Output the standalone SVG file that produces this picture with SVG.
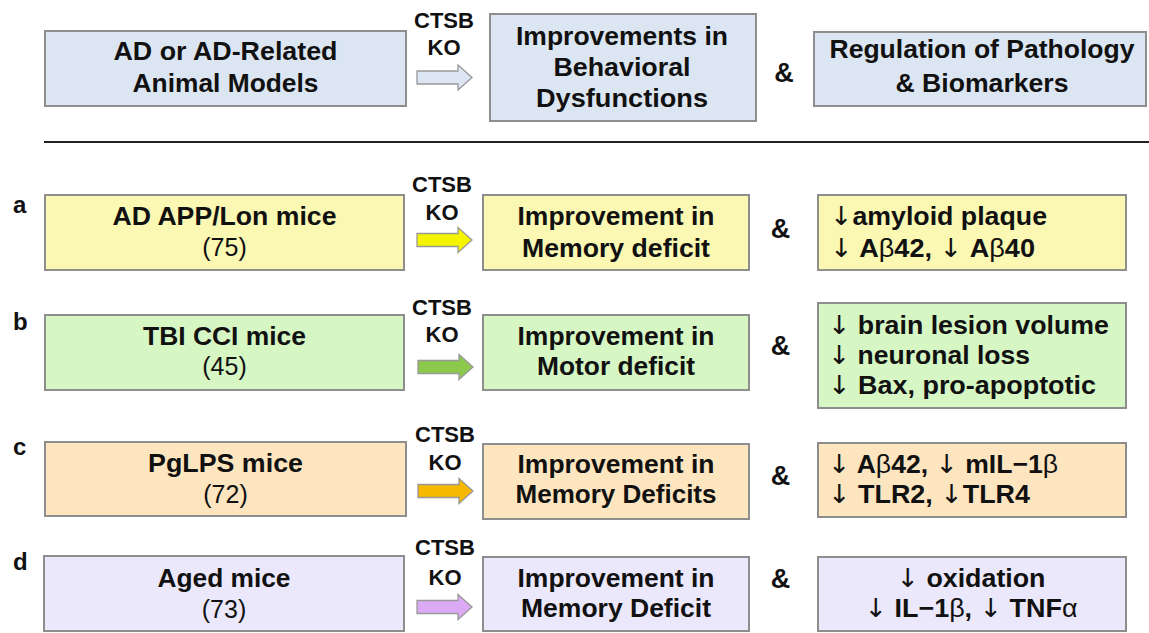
<svg xmlns="http://www.w3.org/2000/svg" width="1149" height="633" viewBox="0 0 1149 633">
<defs>
<style>
text{font-family:"Liberation Sans",Arial,Helvetica,sans-serif;fill:#111;}
.b{font-weight:bold;font-size:26px;}
.r{font-weight:normal;font-size:25px;}
.k{font-weight:bold;font-size:22px;}
.amp{font-weight:bold;font-size:27px;}
.lab{font-weight:bold;font-size:24px;}
.g{font-weight:normal;}
.d{font-family:"DejaVu Sans",sans-serif;font-weight:normal;}
.box{stroke:#8e8e8e;stroke-width:2;}
.arr{stroke:#999;stroke-width:1.3;}
.blue{fill:#dce6f2;}
.yel{fill:#faf8b2;}
.grn{fill:#d6f6c4;}
.org{fill:#fde5c0;}
.pur{fill:#ebe8fb;}
</style>
<path id="ar" d="M0,-6.5 H41 V-12.5 L55,0 L41,12.5 V6.5 H0 Z"/>
</defs>
<rect width="1149" height="633" fill="#fff"/>

<g id="connectors">
<use href="#ar" class="arr" x="417" y="77.5" fill="#dce6f2" stroke="#8a8a8a"/>
<use href="#ar" class="arr" x="417" y="240" fill="#f5f500"/>
<use href="#ar" class="arr" x="418" y="367" fill="#8cc84c"/>
<use href="#ar" class="arr" x="418" y="491" fill="#f7b800"/>
<use href="#ar" class="arr" x="417" y="607" fill="#dcaaf5"/>
<line x1="44" y1="142" x2="1149" y2="142" stroke="#222" stroke-width="2"/>
</g>

<g id="header">
<g id="h-model">
<rect class="box blue" x="45" y="31" width="361" height="75"/>
<text class="b" x="225.5" y="60" text-anchor="middle" textLength="224" lengthAdjust="spacingAndGlyphs">AD or AD-Related</text>
<text class="b" x="225.5" y="92" text-anchor="middle" textLength="186" lengthAdjust="spacingAndGlyphs">Animal Models</text>
</g>
<g id="h-ko">
<text class="k" x="444" y="28" text-anchor="middle">CTSB</text>
<text class="k" x="444" y="55" text-anchor="middle">KO</text>
</g>
<g id="h-behav">
<rect class="box blue" x="490" y="14" width="266" height="107"/>
<text class="b" x="622" y="45" text-anchor="middle" textLength="212" lengthAdjust="spacingAndGlyphs">Improvements in</text>
<text class="b" x="622" y="76" text-anchor="middle" textLength="137" lengthAdjust="spacingAndGlyphs">Behavioral</text>
<text class="b" x="622" y="107" text-anchor="middle" textLength="172" lengthAdjust="spacingAndGlyphs">Dysfunctions</text>
</g>
<text class="amp" x="784" y="82" text-anchor="middle">&amp;</text>
<g id="h-path">
<rect class="box blue" x="814" y="32" width="332" height="74"/>
<text class="b" x="982" y="58" text-anchor="middle" textLength="305" lengthAdjust="spacingAndGlyphs">Regulation of Pathology</text>
<text class="b" x="982" y="92" text-anchor="middle" textLength="173" lengthAdjust="spacingAndGlyphs">&amp; Biomarkers</text>
</g>
</g>

<g id="row-a">
<text class="lab" x="13" y="213">a</text>
<g id="a-model">
<rect class="box yel" x="45" y="195" width="359" height="75"/>
<text class="b" x="224.5" y="225" text-anchor="middle" textLength="224" lengthAdjust="spacingAndGlyphs">AD APP/Lon mice</text>
<text class="r" x="224.5" y="256" text-anchor="middle">(75)</text>
</g>
<text class="k" x="442" y="192" text-anchor="middle">CTSB</text>
<text class="k" x="442" y="220" text-anchor="middle">KO</text>
<g id="a-behav">
<rect class="box yel" x="483" y="195" width="266" height="75"/>
<text class="b" x="616" y="225" text-anchor="middle" textLength="197" lengthAdjust="spacingAndGlyphs">Improvement in</text>
<text class="b" x="616" y="257" text-anchor="middle" textLength="188" lengthAdjust="spacingAndGlyphs">Memory deficit</text>
</g>
<text class="amp" x="780.5" y="238" text-anchor="middle">&amp;</text>
<g id="a-path">
<rect class="box yel" x="818" y="195" width="308" height="75"/>
<text class="b" x="830" y="225" textLength="217" lengthAdjust="spacingAndGlyphs"><tspan class="d">↓</tspan>amyloid plaque</text>
<text class="b" x="830" y="257" textLength="205" lengthAdjust="spacingAndGlyphs"><tspan class="d">↓</tspan> A<tspan class="g">β</tspan>42, <tspan class="d">↓</tspan> A<tspan class="g">β</tspan>40</text>
</g>
</g>

<g id="row-b">
<text class="lab" x="13" y="330">b</text>
<g id="b-model">
<rect class="box grn" x="45" y="315" width="359" height="75"/>
<text class="b" x="224.5" y="345" text-anchor="middle" textLength="163" lengthAdjust="spacingAndGlyphs">TBI CCI mice</text>
<text class="r" x="224.5" y="375" text-anchor="middle">(45)</text>
</g>
<text class="k" x="442" y="315" text-anchor="middle">CTSB</text>
<text class="k" x="442" y="342" text-anchor="middle">KO</text>
<g id="b-behav">
<rect class="box grn" x="483" y="315" width="266" height="75"/>
<text class="b" x="616" y="345" text-anchor="middle" textLength="197" lengthAdjust="spacingAndGlyphs">Improvement in</text>
<text class="b" x="616" y="375" text-anchor="middle" textLength="158" lengthAdjust="spacingAndGlyphs">Motor deficit</text>
</g>
<text class="amp" x="780.5" y="355" text-anchor="middle">&amp;</text>
<g id="b-path">
<rect class="box grn" x="818" y="303" width="308" height="105"/>
<text class="b" x="828" y="334" textLength="281" lengthAdjust="spacingAndGlyphs"><tspan class="d">↓</tspan> brain lesion volume</text>
<text class="b" x="828" y="364" textLength="202" lengthAdjust="spacingAndGlyphs"><tspan class="d">↓</tspan> neuronal loss</text>
<text class="b" x="828" y="394" textLength="268" lengthAdjust="spacingAndGlyphs"><tspan class="d">↓</tspan> Bax, pro-apoptotic</text>
</g>
</g>

<g id="row-c">
<text class="lab" x="13" y="455">c</text>
<g id="c-model">
<rect class="box org" x="45" y="442" width="361" height="74"/>
<text class="b" x="225.5" y="472" text-anchor="middle" textLength="155" lengthAdjust="spacingAndGlyphs">PgLPS mice</text>
<text class="r" x="225.5" y="503" text-anchor="middle">(72)</text>
</g>
<text class="k" x="445" y="442" text-anchor="middle">CTSB</text>
<text class="k" x="445" y="470" text-anchor="middle">KO</text>
<g id="c-behav">
<rect class="box org" x="483" y="444" width="266" height="75"/>
<text class="b" x="616" y="473" text-anchor="middle" textLength="197" lengthAdjust="spacingAndGlyphs">Improvement in</text>
<text class="b" x="616" y="503" text-anchor="middle" textLength="201" lengthAdjust="spacingAndGlyphs">Memory Deficits</text>
</g>
<text class="amp" x="780.5" y="485" text-anchor="middle">&amp;</text>
<g id="c-path">
<rect class="box org" x="818" y="443" width="308" height="74"/>
<text class="b" x="828" y="473" textLength="230" lengthAdjust="spacingAndGlyphs"><tspan class="d">↓</tspan> A<tspan class="g">β</tspan>42, <tspan class="d">↓</tspan> mIL−1<tspan class="g">β</tspan></text>
<text class="b" x="828" y="503" textLength="202" lengthAdjust="spacingAndGlyphs"><tspan class="d">↓</tspan> TLR2, <tspan class="d">↓</tspan>TLR4</text>
</g>
</g>

<g id="row-d">
<text class="lab" x="13" y="570">d</text>
<g id="d-model">
<rect class="box pur" x="44" y="556" width="360" height="75"/>
<text class="b" x="224" y="587" text-anchor="middle" textLength="133" lengthAdjust="spacingAndGlyphs">Aged mice</text>
<text class="r" x="224" y="618" text-anchor="middle">(73)</text>
</g>
<text class="k" x="445" y="555" text-anchor="middle">CTSB</text>
<text class="k" x="445" y="585" text-anchor="middle">KO</text>
<g id="d-behav">
<rect class="box pur" x="483" y="557" width="266" height="74"/>
<text class="b" x="616" y="587" text-anchor="middle" textLength="197" lengthAdjust="spacingAndGlyphs">Improvement in</text>
<text class="b" x="616" y="617" text-anchor="middle" textLength="190" lengthAdjust="spacingAndGlyphs">Memory Deficit</text>
</g>
<text class="amp" x="780.5" y="588" text-anchor="middle">&amp;</text>
<g id="d-path">
<rect class="box pur" x="818" y="557" width="308" height="74"/>
<text class="b" x="971" y="587" text-anchor="middle" textLength="149" lengthAdjust="spacingAndGlyphs"><tspan class="d">↓</tspan> oxidation</text>
<text class="b" x="971" y="617" text-anchor="middle" textLength="213" lengthAdjust="spacingAndGlyphs"><tspan class="d">↓</tspan> IL−1<tspan class="g">β</tspan>, <tspan class="d">↓</tspan> TNF<tspan class="g">α</tspan></text>
</g>
</g>
</svg>
